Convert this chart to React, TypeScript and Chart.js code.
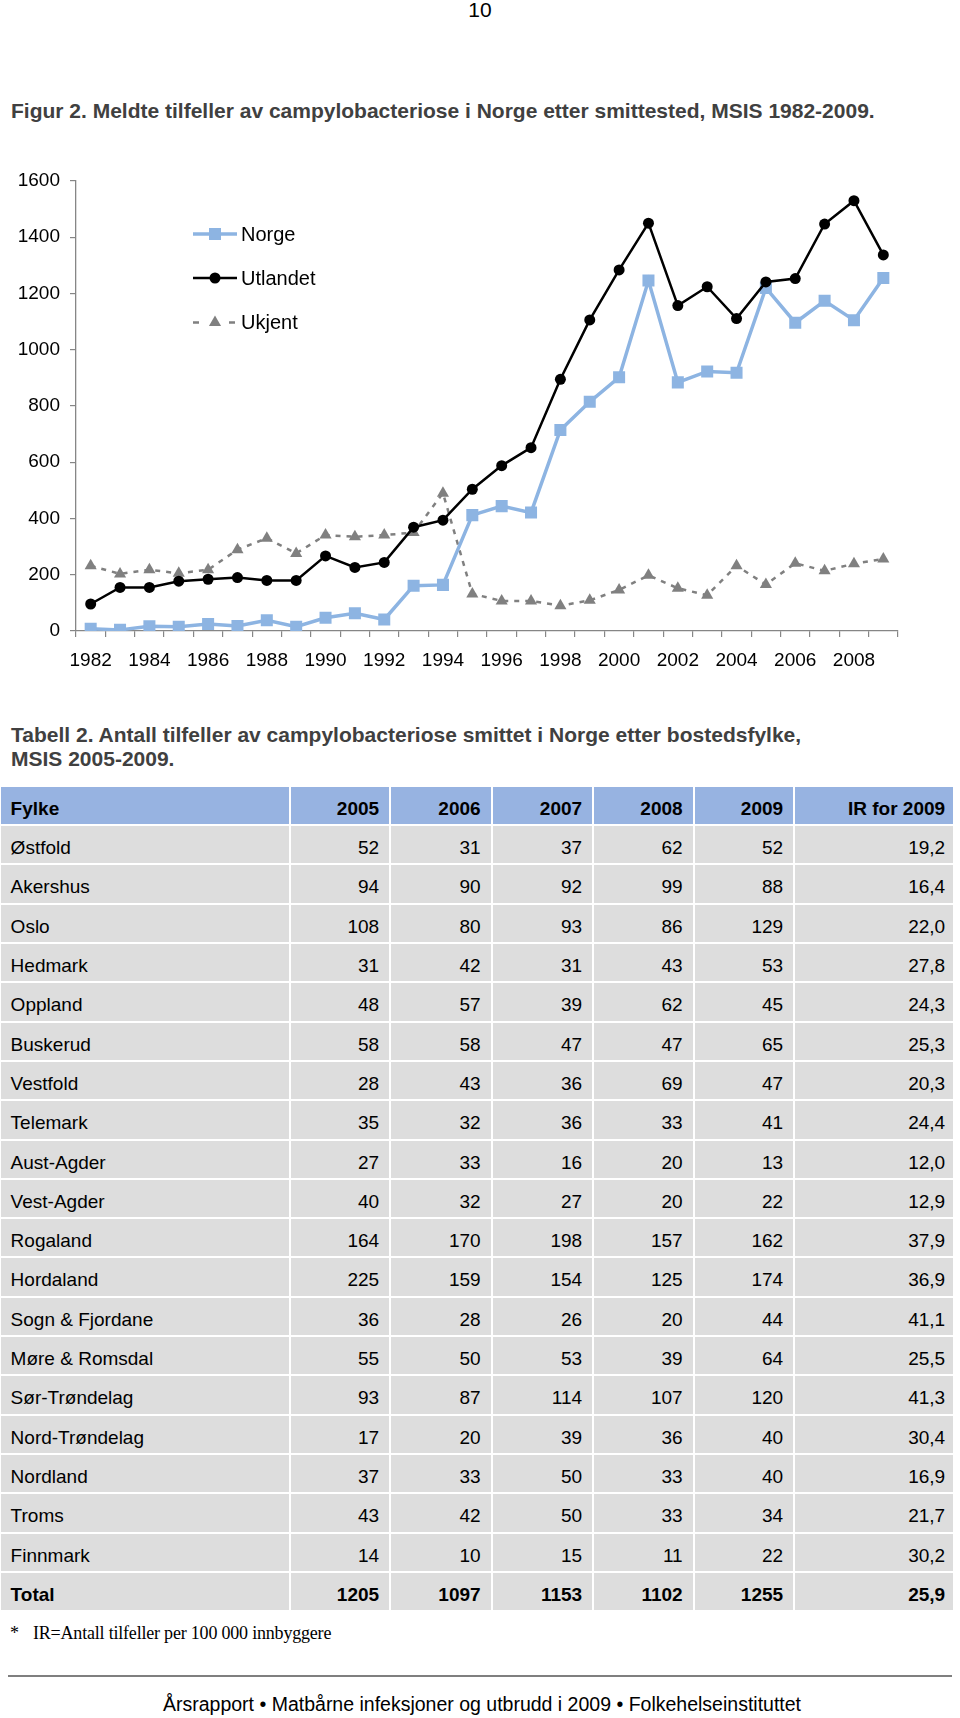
import React, { useEffect, useRef } from "react";
import { Chart, registerables } from "chart.js";

Chart.register(...registerables);

const years = [
  "1982", "1983", "1984", "1985", "1986", "1987", "1988", "1989", "1990", "1991",
  "1992", "1993", "1994", "1995", "1996", "1997", "1998", "1999", "2000", "2001",
  "2002", "2003", "2004", "2005", "2006", "2007", "2008", "2009",
];
const norge = [8, 4, 17, 15, 25, 18, 38, 15, 47, 63, 41, 161, 164, 412, 444, 421, 715, 815, 902, 1246, 884, 923, 918, 1220, 1096, 1174, 1105, 1255];
const utlandet = [96, 155, 155, 177, 184, 190, 180, 180, 267, 226, 244, 369, 394, 504, 588, 652, 895, 1106, 1284, 1450, 1157, 1224, 1111, 1241, 1253, 1447, 1530, 1337];
const ukjent = [232, 203, 218, 205, 218, 289, 330, 276, 341, 335, 341, 350, 490, 132, 107, 107, 90, 109, 146, 198, 152, 127, 232, 165, 241, 214, 239, 256];

const tableHeader = ["Fylke", "2005", "2006", "2007", "2008", "2009", "IR for 2009"];
const fylker = ["Østfold", "Akershus", "Oslo", "Hedmark", "Oppland", "Buskerud", "Vestfold", "Telemark", "Aust-Agder", "Vest-Agder", "Rogaland", "Hordaland", "Sogn & Fjordane", "Møre & Romsdal", "Sør-Trøndelag", "Nord-Trøndelag", "Nordland", "Troms", "Finnmark"];
const t2005 = [52, 94, 108, 31, 48, 58, 28, 35, 27, 40, 164, 225, 36, 55, 93, 17, 37, 43, 14];
const t2006 = [31, 90, 80, 42, 57, 58, 43, 32, 33, 32, 170, 159, 28, 50, 87, 20, 33, 42, 10];
const t2007 = [37, 92, 93, 31, 39, 47, 36, 36, 16, 27, 198, 154, 26, 53, 114, 39, 50, 50, 15];
const t2008 = [62, 99, 86, 43, 62, 47, 69, 33, 20, 20, 157, 125, 20, 39, 107, 36, 33, 33, 11];
const t2009 = [52, 88, 129, 53, 45, 65, 47, 41, 13, 22, 162, 174, 44, 64, 120, 40, 40, 34, 22];
const irValues = ["19,2", "16,4", "22,0", "27,8", "24,3", "25,3", "20,3", "24,4", "12,0", "12,9", "37,9", "36,9", "41,1", "25,5", "41,3", "30,4", "16,9", "21,7", "30,2"];
const totalRow = ["Total", "1205", "1097", "1153", "1102", "1255", "25,9"];

const SANS = '"Liberation Sans", Arial, Helvetica, sans-serif';
const SERIF = '"Liberation Serif", "Times New Roman", serif';

const NORGE_COLOR = "#8db4e2";
const UKJENT_COLOR = "#808080";
const AXIS_COLOR = "#868686";

function drawMarker(ctx: CanvasRenderingContext2D, style: string, x: number, y: number, r: number, color: string) {
  ctx.save();
  ctx.fillStyle = color;
  ctx.setLineDash([]);
  ctx.beginPath();
  if (style === "rect") {
    const s = Math.SQRT1_2 * r;
    ctx.rect(x - s, y - s, 2 * s, 2 * s);
  } else if (style === "triangle") {
    ctx.moveTo(x, y - r);
    ctx.lineTo(x + 0.866 * r, y + 0.5 * r);
    ctx.lineTo(x - 0.866 * r, y + 0.5 * r);
    ctx.closePath();
  } else {
    ctx.arc(x, y, r, 0, Math.PI * 2);
  }
  ctx.fill();
  ctx.restore();
}

const legendPlugin = {
  id: "lineLegend",
  afterDraw(chart: any) {
    const ctx = chart.ctx as CanvasRenderingContext2D;
    const rows = [84, 128, 172.5];
    const x1 = 193;
    const x2 = 237;
    chart.data.datasets.forEach((ds: any, i: number) => {
      const y = rows[i];
      ctx.save();
      ctx.strokeStyle = ds.borderColor;
      ctx.lineWidth = ds.borderWidth;
      ctx.beginPath();
      if (ds.borderDash) {
        ctx.moveTo(x1, y);
        ctx.lineTo(x1 + 6, y);
        ctx.moveTo(x2 - 8, y);
        ctx.lineTo(x2 - 2, y);
      } else {
        ctx.moveTo(x1, y);
        ctx.lineTo(x2, y);
      }
      ctx.stroke();
      ctx.restore();
      drawMarker(ctx, ds.pointStyle, (x1 + x2) / 2, y, ds.pointRadius, ds.pointBackgroundColor);
      ctx.save();
      ctx.fillStyle = "#000";
      ctx.font = `20px ${SANS}`;
      ctx.textBaseline = "middle";
      ctx.textAlign = "left";
      ctx.fillText(ds.label, 241, y + 1);
      ctx.restore();
    });
  },
};

function LineChart() {
  const ref = useRef<HTMLCanvasElement | null>(null);
  useEffect(() => {
    if (!ref.current) return;
    const chart = new Chart(ref.current, {
      type: "line",
      data: {
        labels: years,
        datasets: [
          {
            label: "Norge",
            data: norge,
            borderColor: NORGE_COLOR,
            backgroundColor: NORGE_COLOR,
            pointBackgroundColor: NORGE_COLOR,
            pointBorderWidth: 0,
            borderWidth: 3.5,
            pointStyle: "rect",
            pointRadius: 8.5,
            tension: 0,
            order: 1,
          },
          {
            label: "Utlandet",
            data: utlandet,
            borderColor: "#000000",
            backgroundColor: "#000000",
            pointBackgroundColor: "#000000",
            pointBorderWidth: 0,
            borderWidth: 2.5,
            pointStyle: "circle",
            pointRadius: 5.5,
            tension: 0,
            order: 0,
          },
          {
            label: "Ukjent",
            data: ukjent,
            borderColor: UKJENT_COLOR,
            backgroundColor: UKJENT_COLOR,
            pointBackgroundColor: UKJENT_COLOR,
            pointBorderWidth: 0,
            borderWidth: 2.5,
            borderDash: [5, 6],
            pointStyle: "triangle",
            pointRadius: 7,
            tension: 0,
            order: 2,
          },
        ] as any,
      },
      options: {
        animation: false,
        responsive: false,
        devicePixelRatio: 1,
        layout: { padding: { left: 0, top: 31, right: 62, bottom: 0 } },
        plugins: {
          legend: { display: false },
          tooltip: { enabled: false },
          title: { display: false },
        },
        scales: {
          x: {
            type: "category",
            offset: true,
            grid: {
              offset: true,
              drawOnChartArea: false,
              drawTicks: true,
              tickLength: 6,
              color: AXIS_COLOR,
              lineWidth: 1.2,
            },
            border: { color: AXIS_COLOR, width: 1.3 },
            ticks: {
              autoSkip: false,
              maxRotation: 0,
              minRotation: 0,
              padding: 12,
              color: "#000",
              font: { family: SANS, size: 19 },
              callback: (_v: any, i: number) => (i % 2 === 0 ? years[i] : ""),
            },
            afterFit: (s: any) => {
              s.height = 49;
            },
          },
          y: {
            min: 0,
            max: 1600,
            grid: {
              drawOnChartArea: false,
              drawTicks: true,
              tickLength: 6,
              color: AXIS_COLOR,
              lineWidth: 1.2,
            },
            border: { color: AXIS_COLOR, width: 1.3 },
            ticks: {
              stepSize: 200,
              padding: 10,
              color: "#000",
              font: { family: SANS, size: 19 },
              callback: (v: any) => String(v),
            },
            afterFit: (s: any) => {
              s.width = 76;
            },
          },
        },
      } as any,
      plugins: [legendPlugin],
    });
    return () => chart.destroy();
  }, []);
  return (
    <canvas
      ref={ref}
      width={960}
      height={530}
      style={{ position: "absolute", left: 0, top: 150, width: 960, height: 530 }}
    />
  );
}

function Txt(props: { x: number; baseline: number; fs: number; children: any; style?: any; width?: number; serif?: boolean }) {
  const k = props.serif ? 0.8375 : 0.8465;
  return (
    <div
      style={{
        position: "absolute",
        left: props.x,
        top: props.baseline - k * props.fs,
        width: props.width,
        fontSize: props.fs,
        lineHeight: props.fs + "px",
        whiteSpace: "nowrap",
        fontFamily: props.serif ? SERIF : SANS,
        ...(props.style || {}),
      }}
    >
      {props.children}
    </div>
  );
}

const colWidths = [288, 98, 99.5, 99.5, 98.5, 98.5, 158];

function DataTable() {
  const rows: string[][] = fylker.map((f, i) => [
    f,
    String(t2005[i]),
    String(t2006[i]),
    String(t2007[i]),
    String(t2008[i]),
    String(t2009[i]),
    irValues[i],
  ]);
  const cell = (text: string, ci: number, bold: boolean, bg: string, key: string) => (
    <td key={key} style={{ padding: 0, background: bg, verticalAlign: "top" }}>
      <div
        style={{
          height: 37.3,
          boxSizing: "border-box",
          paddingTop: 12,
          paddingLeft: ci === 0 ? 9.5 : 0,
          paddingRight: ci === 0 ? 0 : ci === 6 ? 8 : 10,
          textAlign: ci === 0 ? "left" : "right",
          fontSize: 19,
          lineHeight: "19px",
          fontWeight: bold ? "bold" : "normal",
          color: "#000",
          whiteSpace: "nowrap",
          overflow: "hidden",
        }}
      >
        {text}
      </div>
    </td>
  );
  return (
    <table
      style={{
        position: "absolute",
        left: -0.9,
        top: 784.9,
        borderCollapse: "separate",
        borderSpacing: "2.6px 2.35px",
        tableLayout: "fixed",
        fontFamily: SANS,
      }}
    >
      <colgroup>
        {colWidths.map((w, i) => (
          <col key={i} style={{ width: w }} />
        ))}
      </colgroup>
      <tbody>
        <tr>{tableHeader.map((h, ci) => cell(h, ci, true, "#97b3e1", "h" + ci))}</tr>
        {rows.map((r, ri) => (
          <tr key={ri}>{r.map((v, ci) => cell(v, ci, false, "#dddddd", ri + "-" + ci))}</tr>
        ))}
        <tr>{totalRow.map((v, ci) => cell(v, ci, true, "#dddddd", "t" + ci))}</tr>
      </tbody>
    </table>
  );
}

export default function App() {
  return (
    <div
      style={{
        position: "absolute",
        left: 0,
        top: 0,
        width: 960,
        height: 1718,
        background: "#ffffff",
        overflow: "hidden",
        fontFamily: SANS,
      }}
    >
      <Txt x={0} width={960} baseline={16.7} fs={21} style={{ textAlign: "center" }}>
        10
      </Txt>
      <Txt x={11} baseline={117.3} fs={21} style={{ fontWeight: "bold", color: "#404040" }}>
        Figur 2. Meldte tilfeller av campylobacteriose i Norge etter smittested, MSIS 1982-2009.
      </Txt>
      <LineChart />
      <Txt x={11} baseline={741.7} fs={21} style={{ fontWeight: "bold", color: "#404040" }}>
        Tabell 2. Antall tilfeller av campylobacteriose smittet i Norge etter bostedsfylke,
      </Txt>
      <Txt x={11} baseline={766} fs={21} style={{ fontWeight: "bold", color: "#404040" }}>
        MSIS 2005-2009.
      </Txt>
      <DataTable />
      <Txt x={10} baseline={1639.3} fs={18} serif>
        *
      </Txt>
      <Txt x={33} baseline={1639.3} fs={18} serif style={{ letterSpacing: "-0.2px" }}>
        IR=Antall tilfeller per 100 000 innbyggere
      </Txt>
      <div
        style={{
          position: "absolute",
          left: 8,
          top: 1674.7,
          width: 944,
          height: 2,
          background: "#7f7f7f",
        }}
      />
      <Txt x={2} width={960} baseline={1711.7} fs={19.5} style={{ textAlign: "center" }}>
        Årsrapport • Matbårne infeksjoner og utbrudd i 2009 • Folkehelseinstituttet
      </Txt>
    </div>
  );
}
